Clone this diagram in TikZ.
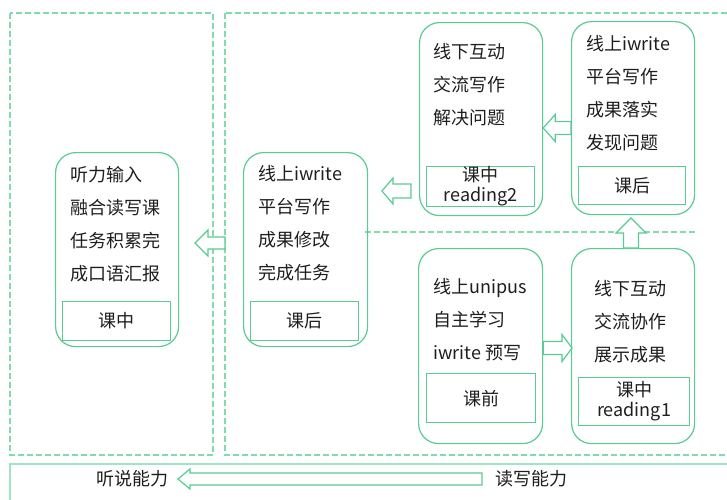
\documentclass[tikz,border=0pt]{standalone}
\usepackage{fontspec}
\setmainfont{Noto Sans CJK SC}
\usetikzlibrary{calc}
\definecolor{gline}{RGB}{88,204,146}
\definecolor{gdash}{RGB}{128,220,172}
\definecolor{gpale}{RGB}{160,228,195}
\definecolor{txtc}{RGB}{30,30,30}
\newcommand\harrow[5]{\draw[hollow] let \p1=(#1),\p2=(#2) in (\p1) -- ({\x1+(#5)},{\y1+#4}) -- ({\x1+(#5)},{\y1+#3}) -- (\x2,{\y1+#3}) -- (\x2,{\y1-#3}) -- ({\x1+(#5)},{\y1-#3}) -- ({\x1+(#5)},{\y1-#4}) -- cycle;}
\newcommand\varrow[5]{\draw[hollow] let \p1=(#1),\p2=(#2) in (\p1) -- ({\x1+#4},{\y1+(#5)}) -- ({\x1+#3},{\y1+(#5)}) -- ({\x1+#3},\y2) -- ({\x1-#3},\y2) -- ({\x1-#3},{\y1+(#5)}) -- ({\x1-#4},{\y1+(#5)}) -- cycle;}
\begin{document}
\begin{tikzpicture}[x=1pt,y=-1pt,
  box/.style={draw=gline,line width=1.2pt,rounded corners=20pt,anchor=north west,inner sep=0pt},
  tag/.style={draw=gline,line width=1.2pt,align=center,inner sep=0pt,anchor=north west,text=txtc,font=\fontsize{18}{20}\selectfont},
  txt/.style={align=left,anchor=west,inner sep=0pt,text=txtc,font=\fontsize{18}{33}\selectfont},
  lbl/.style={inner sep=0pt,text=txtc,font=\fontsize{18}{20}\selectfont},
  dline/.style={draw=gdash,line width=1.5pt,dash pattern=on 6pt off 3pt},
  hollow/.style={draw=gline,line width=1.2pt,fill=white,line join=miter}]
\useasboundingbox (0,0) rectangle (727,499);
\clip (0,0) rectangle (727,499);
% frames
\draw[dline] (10,13) rectangle (213,455);
\draw[dline] (225,13) rectangle (745,455);
\draw[dline] (365,232) -- (697,232);
\draw[draw=gpale,line width=1.3pt] (10,464) rectangle (745,520);
% boxes
\node[box,minimum width=123pt,minimum height=194pt] (b1) at (55,152) {};
\node[box,minimum width=124pt,minimum height=194pt] (b2) at (243,152) {};
\node[box,minimum width=123pt,minimum height=193pt] (b3) at (419,22) {};
\node[box,minimum width=123pt,minimum height=193pt] (b4) at (571,21) {};
\node[box,minimum width=124pt,minimum height=195pt] (b5) at (418,248) {};
\node[box,minimum width=123pt,minimum height=195pt] (b6) at (571,248) {};
% texts
\node[txt] (x1) at (70,224) {听力输入\\融合读写课\\任务积累完\\成口语汇报};
\node[txt] (x2) at (258,223) {线上iwrite\\平台写作\\成果修改\\完成任务};
\node[txt] (x3) at (433,85) {线下互动\\交流写作\\解决问题};
\node[txt] (x4) at (586,93) {线上iwrite\\平台写作\\成果落实\\发现问题};
\node[txt] (x5) at (433,320) {线上unipus\\自主学习\\iwrite 预写};
\node[txt] (x6) at (594,321.5) {线下互动\\交流协作\\展示成果};
% tags
\node[tag,minimum width=108pt,minimum height=39pt] (t1) at (62,301) {课中};
\node[tag,minimum width=108pt,minimum height=39pt] (t2) at (250,301) {课后};
\node[tag,minimum width=108pt,minimum height=39pt] (t3) at (426,166) {课中\\reading2};
\node[tag,minimum width=107pt,minimum height=38pt] (t4) at (578,166) {课后};
\node[tag,minimum width=109pt,minimum height=49pt] (t5) at (426,373) {课前};
\node[tag,minimum width=111pt,minimum height=48pt] (t6) at (578,377) {课中\\reading1};
% bottom labels
\node[lbl] (ls) at (132,479) {听说能力};
\node[lbl] (rw) at (531,479) {读写能力};
% arrow anchors
\coordinate (a56tip) at (572,348);
\coordinate (a56tail) at (b5.east |- a56tip);
\coordinate (a64tail) at (631,248);
\coordinate (a64tip) at (631,218);
\coordinate (a43tip) at (b3.east |- 0,128);
\coordinate (a43tail) at (b4.west |- a43tip);
\coordinate (a32tip) at (382,191);
\coordinate (a32tail) at (411,191);
\coordinate (a21tip) at (195,243);
\coordinate (a21tail) at (225,243);
\coordinate (abtip) at (178,479);
\coordinate (abtail) at (482,479);
% arrows
\harrow{a56tip}{a56tail}{6.5pt}{13.5pt}{-10pt}
\varrow{a64tip}{a64tail}{7.5pt}{15pt}{-15pt}
\harrow{a43tip}{a43tail}{6.5pt}{13.5pt}{12pt}
\harrow{a32tip}{a32tail}{7pt}{13pt}{11pt}
\harrow{a21tip}{a21tail}{6pt}{13pt}{13pt}
\harrow{abtip}{abtail}{6pt}{10pt}{12pt}
\end{tikzpicture}
\end{document}
